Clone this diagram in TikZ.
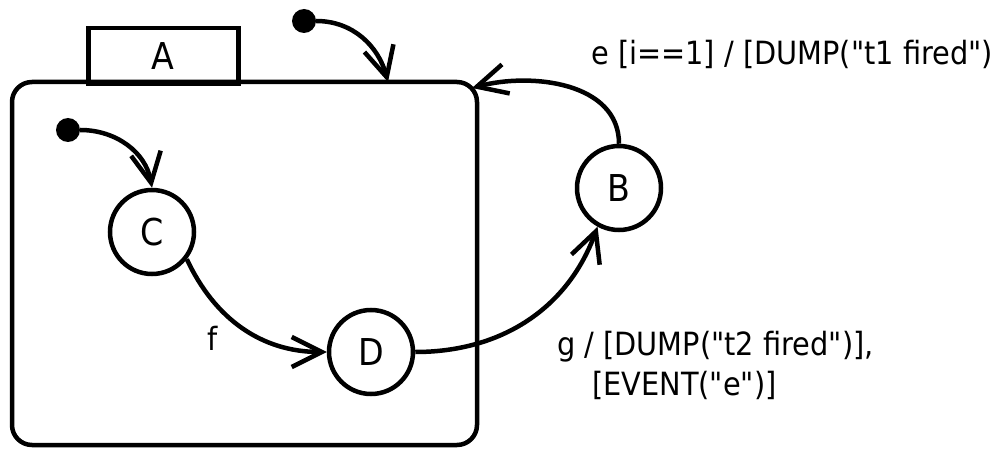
\documentclass[tikz,border=0pt]{standalone}
\usepackage{fontspec}
\setmainfont{DejaVu Sans}[FakeStretch=0.9,Ligatures=TeXOff]
\usetikzlibrary{arrows.meta}
\begin{document}
\begin{tikzpicture}[x=1pt,y=-1pt,
  lbl/.style={inner sep=0pt,font=\fontsize{32}{38}\selectfont},
  state/.style={circle,draw,line width=4.5pt,minimum size=84pt,inner sep=0pt,font=\fontsize{37}{44}\selectfont},
  initdot/.style={circle,fill,minimum size=24pt,inner sep=0pt},
  trans/.style={line width=4.5pt,-{Straight Barb[length=30pt,width=30pt]}}
]
\useasboundingbox (0,0) rectangle (998,449);
\draw[line width=4.5pt,rounded corners=20pt] (12,82) rectangle (477,445);
\node[draw,line width=4.5pt,minimum width=150pt,minimum height=56pt,inner sep=0pt,anchor=north west,font=\fontsize{37}{44}\selectfont] (tab) at (86,26) {A};
\coordinate (corner) at (472,88);
\coordinate (topin) at (388,82);
\node[initdot] (i1) at (304,21) {};
\node[initdot] (i2) at (68,130) {};
\node[state] (C) at (152,232) {C};
\node[state] (D) at (371,352) {D};
\node[state] (B) at (619,188) {B};
\draw[trans] (i1.east) to[out=0,in=105] (topin);
\draw[trans] (i2.east) to[out=0,in=100] (C.north);
\draw[trans] (C.-38) to[out=-65,in=180] (D.west);
\draw[trans] (D.east) to[out=0,in=-110] (B.-119);
\draw[trans] (B.north) to[out=90,in=15] (corner);
\node[lbl,anchor=base west] (f) at (207,350) {f};
\node[lbl,anchor=base west] (l1) at (591,65) {e [i==1] / [DUMP("t1 fired")};
\node[lbl,anchor=base west] (l2) at (557,355) {g / [DUMP("t2 fired")],};
\node[lbl,anchor=base west] (l3) at (592,395) {[EVENT("e")]};
\end{tikzpicture}
\end{document}
